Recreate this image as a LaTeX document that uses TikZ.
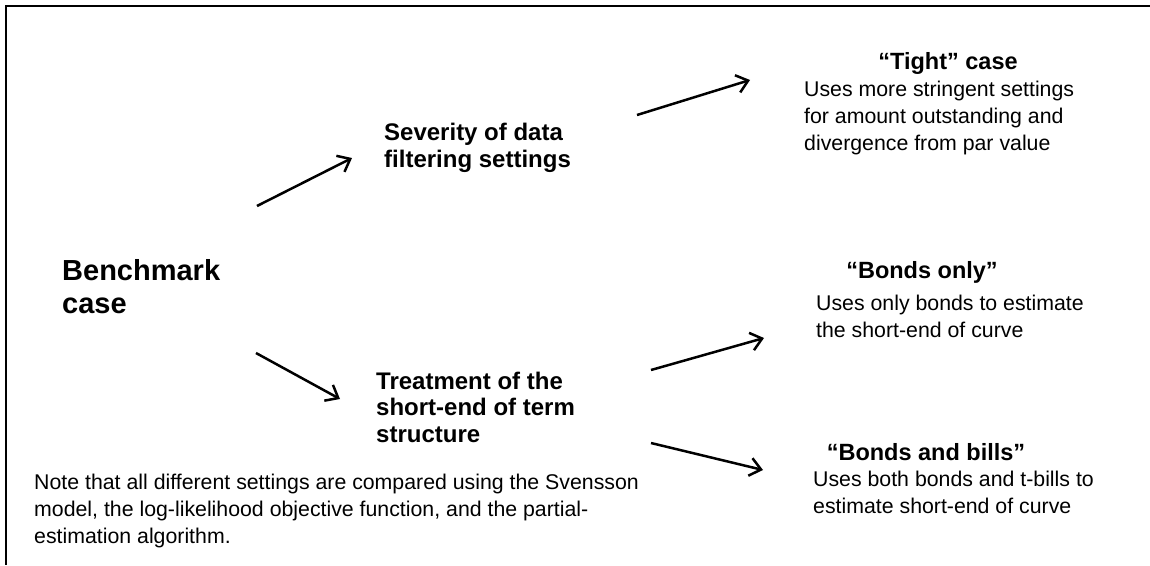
\documentclass[tikz,border=0pt]{standalone}
\usepackage{fontspec}
\setmainfont{Liberation Sans}
\usetikzlibrary{arrows.meta}
\tikzset{
  big/.style={font=\bfseries\fontsize{29}{33}\selectfont, align=left, anchor=base west, inner sep=0pt},
  mid/.style={font=\bfseries\fontsize{24}{26.5}\selectfont, align=left, anchor=base west, inner sep=0pt},
  head/.style={font=\bfseries\fontsize{23.5}{26}\selectfont, anchor=base, inner sep=0pt},
  txt/.style={font=\fontsize{21.3}{26.8}\selectfont, align=left, anchor=base west, inner sep=0pt},
  arr/.style={-{Straight Barb[length=11pt,width=18pt,line width=2.5pt]}, line width=2.5pt},
}
\begin{document}
\begin{tikzpicture}[x=1pt,y=-1pt]
      \useasboundingbox (0,0) rectangle (1150,565);%
      \draw[line width=2pt] (1150,5.5) -- (5.5,5.5) -- (5.5,565);%

      % multi-line nodes sit on the baseline of their last line
      \node[big] (B) at (62,313) {Benchmark\\case};%

      \node[mid] (S) at (384,167) {Severity of data\\filtering settings};%
      \node[mid] (T) at (376,442) {Treatment of the\\short-end of term\\structure};%

      \node[head] (C1) at (948,69) {“Tight” case};%
      \node[txt] (D1) at (804,150) {Uses more stringent settings\\for amount outstanding and\\divergence from par value};%
      \node[head] (C2) at (922,278) {“Bonds only”};%
      \node[txt] (D2) at (816,337) {Uses only bonds to estimate\\the short-end of curve};%
      \node[head] (C3) at (926,460) {“Bonds and bills”};%
      \node[txt] (D3) at (813,513) {Uses both bonds and t-bills to\\estimate short-end of curve};%

      \node[txt] (N) at (34,543) {Note that all different settings are compared using the Svensson\\model, the log-likelihood objective function, and the partial-\\estimation algorithm.};%

      \coordinate (B1) at (257,206);%
      \coordinate (S1) at (352,158);%
      \coordinate (B2) at (256,353);%
      \coordinate (T1) at (340,399);%
      \coordinate (S2) at (637,115);%
      \coordinate (C1a) at (750,80);%
      \coordinate (T2) at (651,370);%
      \coordinate (C2a) at (764,338);%
      \coordinate (T3) at (651,443);%
      \coordinate (C3a) at (763,470);%

      \draw[arr] (B1) -- (S1);%
      \draw[arr] (B2) -- (T1);%
      \draw[arr] (S2) -- (C1a);%
      \draw[arr] (T2) -- (C2a);%
      \draw[arr] (T3) -- (C3a);%
\end{tikzpicture}
\end{document}
